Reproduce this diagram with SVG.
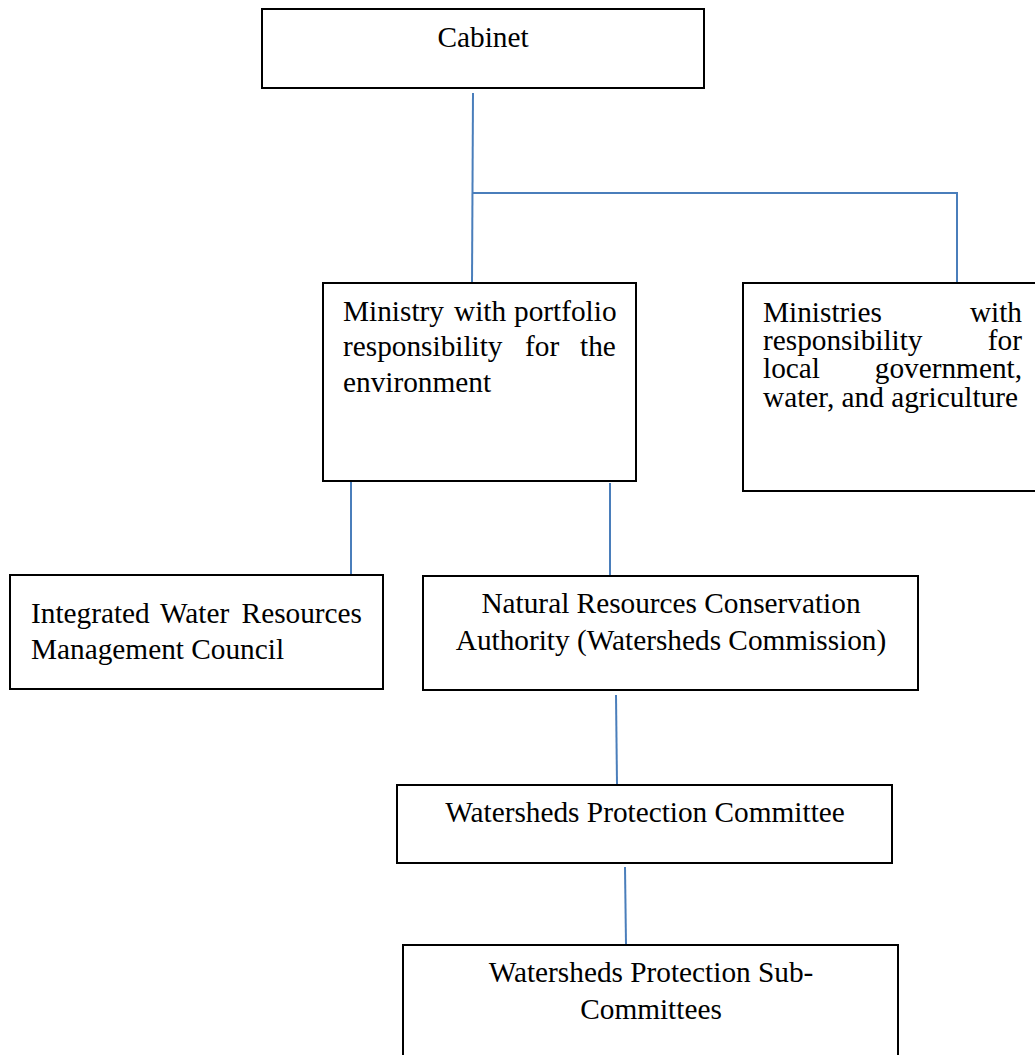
<svg xmlns="http://www.w3.org/2000/svg" width="1035" height="1055" viewBox="0 0 1035 1055">
<style>
  .box { fill: #ffffff; stroke: #000000; stroke-width: 2; }
  .conn { stroke: #4a7ebb; stroke-width: 2; fill: none; }
  text { font-family: "Liberation Serif", "Times New Roman", serif; font-size: 29.3px; fill: #000000; }
  .c { text-anchor: middle; }
  .e { text-anchor: end; }
</style>
<rect width="1035" height="1055" fill="#ffffff"/>
<g id="connectors">
  <line class="conn" x1="473" y1="93" x2="472" y2="283"/>
  <line class="conn" x1="472" y1="193" x2="957" y2="193"/>
  <line class="conn" x1="957" y1="192" x2="957" y2="283"/>
  <line class="conn" x1="351" y1="482" x2="351" y2="575"/>
  <line class="conn" x1="610" y1="483" x2="610" y2="575"/>
  <line class="conn" x1="616" y1="695" x2="617" y2="784"/>
  <line class="conn" x1="625" y1="867" x2="626" y2="945"/>
</g>
<g id="cabinet">
  <rect class="box" x="262" y="9" width="442" height="79"/>
  <text class="c" x="483" y="47">Cabinet</text>
</g>
<g id="ministry-environment">
  <rect class="box" x="323" y="283" width="313" height="198"/>
  <text x="343" y="321">Ministry<tspan x="454">with</tspan><tspan x="514">portfolio</tspan></text>
  <text x="343" y="356">responsibility<tspan x="525">for</tspan><tspan x="580">the</tspan></text>
  <text x="343" y="392">environment</text>
</g>
<g id="ministries-other">
  <rect class="box" x="743" y="283" width="310" height="208"/>
  <text x="763" y="322">Ministries</text>
  <text class="e" x="1022" y="322">with</text>
  <text x="763" y="350">responsibility</text>
  <text class="e" x="1022" y="350">for</text>
  <text x="763" y="378">local</text>
  <text class="e" x="1022" y="378">government,</text>
  <text x="763" y="407">water, and agriculture</text>
</g>
<g id="iwrm-council">
  <rect class="box" x="10" y="575" width="373" height="114"/>
  <text x="31" y="623">Integrated<tspan x="160">Water</tspan></text>
  <text class="e" x="362" y="623">Resources</text>
  <text x="31" y="659">Management Council</text>
</g>
<g id="nrca">
  <rect class="box" x="423" y="576" width="495" height="114"/>
  <text class="c" x="671" y="613">Natural Resources Conservation</text>
  <text class="c" x="671" y="650">Authority (Watersheds Commission)</text>
</g>
<g id="wpc">
  <rect class="box" x="397" y="785" width="495" height="78"/>
  <text class="c" x="645" y="822">Watersheds Protection Committee</text>
</g>
<g id="wpsc">
  <rect class="box" x="403" y="945" width="495" height="130"/>
  <text class="c" x="651" y="982">Watersheds Protection Sub-</text>
  <text class="c" x="651" y="1019">Committees</text>
</g>
</svg>
